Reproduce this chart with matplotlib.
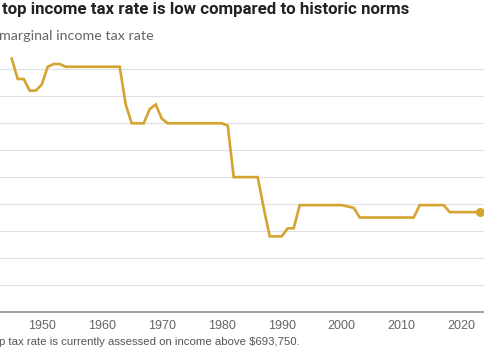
import matplotlib
matplotlib.use("Agg")
import matplotlib.pyplot as plt

# top marginal income tax rate, 1945-2023 (%)
years = list(range(1945, 2024))
rates = [94, 86.45, 86.45, 82.13, 82.13, 84.36, 91, 92, 92,
         91, 91, 91, 91, 91, 91, 91, 91, 91, 91,
         77, 70, 70, 70, 75.25, 77, 71.75,
         70, 70, 70, 70, 70, 70, 70, 70, 70, 70,
         69.13,
         50, 50, 50, 50, 50,
         38.5, 28, 28, 28, 31, 31,
         39.6, 39.6, 39.6, 39.6, 39.6, 39.6, 39.6, 39.6,
         39.1, 38.6,
         35, 35, 35, 35, 35, 35, 35, 35, 35, 35,
         39.6, 39.6, 39.6, 39.6, 39.6,
         37, 37, 37, 37, 37, 37]
xticks = [1950, 1960, 1970, 1980, 1990, 2000, 2010, 2020]

gold = "#d4a330"

fig = plt.figure(figsize=(4.85, 3.6), dpi=100)
ax = fig.add_axes([0, 0.134, 1, 0.718])
ax.set_xlim(1943.05, 2023.88)
ax.set_ylim(0, 96)

# gridlines
for y in range(10, 100, 10):
    ax.axhline(y, color="#e0e0e0", linewidth=0.8, zorder=0)
ax.axhline(0, color="#9a9a9a", linewidth=1.3, zorder=1, clip_on=False)

ax.plot(years, rates, color=gold, linewidth=1.9, solid_joinstyle="miter", zorder=3)
ax.plot(years[-1], rates[-1], "o", color=gold, markersize=5.5, clip_on=False, zorder=4)

for s in ax.spines.values():
    s.set_visible(False)
ax.set_yticks([])
ax.set_xticks(xticks)
ax.set_xticklabels([str(t) for t in xticks], color="#666666", fontsize=9, family="Liberation Sans")
ax.tick_params(axis="x", length=0, pad=6)

fig.text(0.004, 0.962, "top income tax rate is low compared to historic norms",
         fontsize=12.2, fontweight="bold", color="#222222", family="Roboto", va="baseline")
fig.text(-0.002, 0.89, "marginal income tax rate",
         fontsize=10.3, color="#666666", family="Lato", va="baseline")
fig.text(-0.002, 0.042, "p tax rate is currently assessed on income above $693,750.",
         fontsize=8.2, color="#555555", family="Liberation Sans", va="baseline")

fig.savefig("out.png", dpi=100)
